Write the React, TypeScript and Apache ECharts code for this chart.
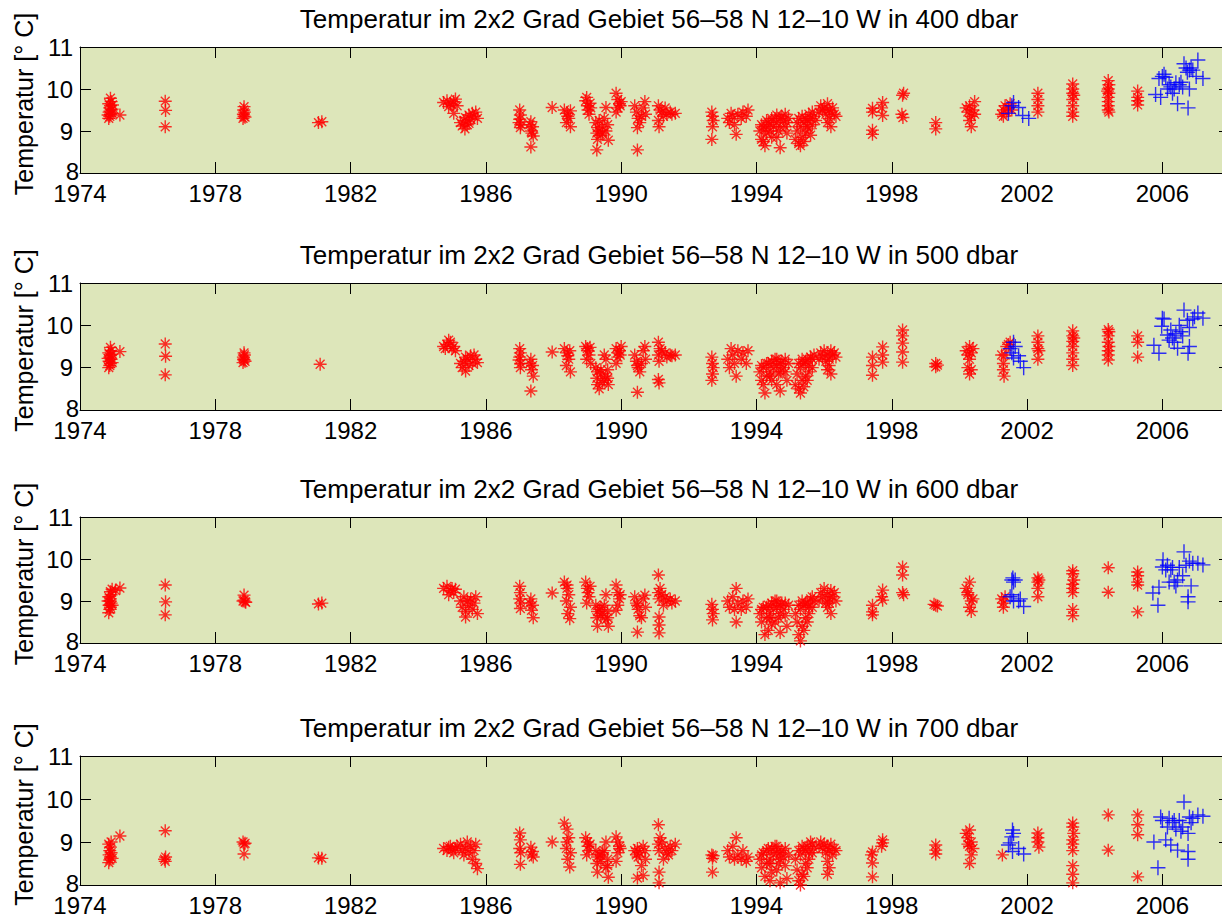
import React, { useEffect, useRef } from "react";
import * as echarts from "echarts";

type Pt = [number, number];

// ---------- data ----------
const depths = ["400", "500", "600", "700"];
const xTickYears = [1974, 1978, 1982, 1986, 1990, 1994, 1998, 2002, 2006];
const yTickUpper = [9, 10, 11];
const yTickLowest = 8;
const yTickAll = [8, 9, 10, 11];

const red400: Pt[] = [
  [1974.85,9.30],[1974.88,9.35],[1974.9,9.4],[1974.86,9.45],[1974.92,9.5],[1974.88,9.55],[1974.9,9.6],[1974.85,9.65],[1974.92,9.7],[1974.9,9.78],[1974.95,9.42],[1974.95,9.52],[1974.83,9.38],[1974.96,9.62],
  [1975.18,9.38],
  [1976.52,9.71],[1976.53,9.49],[1976.52,9.10],
  [1978.82,9.3],[1978.85,9.35],[1978.83,9.4],[1978.86,9.45],[1978.84,9.5],[1978.85,9.58],[1978.88,9.33],
  [1981.05,9.2],[1981.15,9.22],
  [1984.75,9.68],[1984.85,9.72],[1984.95,9.65],[1985.05,9.7],[1985.15,9.6],[1984.9,9.58],[1985.1,9.76],[1985.05,9.42],[1985.0,9.62],
  [1985.25,9.2],[1985.3,9.12],[1985.35,9.25],[1985.4,9.32],[1985.45,9.15],[1985.5,9.38],[1985.55,9.28],[1985.6,9.42],[1985.65,9.35],[1985.7,9.45],[1985.75,9.3],[1985.38,9.05],[1985.5,9.18],
  [1987.0,9.5],[1987.02,9.38],[1987.0,9.28],[1987.03,9.15],[1987.02,9.08],[1986.98,9.2],
  [1987.33,9.22],[1987.38,9.1],[1987.35,9.0],[1987.4,8.88],[1987.36,8.95],[1987.3,9.15],[1987.33,8.62],
  [1987.96,9.56],
  [1988.32,9.5],[1988.4,9.42],[1988.45,9.3],[1988.38,9.2],[1988.5,9.1],[1988.42,9.35],[1988.5,9.48],
  [1988.95,9.72],[1989.0,9.6],[1989.02,9.5],[1989.05,9.4],[1988.98,9.8],[1989.08,9.66],[1989.1,9.55],
  [1989.25,9.2],[1989.3,9.08],[1989.28,8.95],[1989.3,8.8],[1989.28,8.55],[1989.35,9.0],[1989.4,8.9],[1989.5,9.3],[1989.55,9.56],[1989.6,9.15],[1989.62,8.78],[1989.55,9.0],[1989.45,9.1],[1989.35,9.25],[1989.45,8.95],
  [1989.85,9.9],[1989.9,9.75],[1989.95,9.65],[1989.9,9.55],[1989.85,9.45],[1989.97,9.6],[1990.0,9.7],
  [1990.4,9.6],[1990.45,9.45],[1990.5,9.3],[1990.55,9.2],[1990.48,9.08],[1990.65,9.55],[1990.7,9.7],[1990.72,9.4],[1990.6,9.35],[1990.48,8.55],
  [1991.1,9.6],[1991.15,9.5],[1991.1,9.25],[1991.12,9.1],[1991.2,9.45],[1991.3,9.55],[1991.35,9.4],[1991.45,9.45],[1991.5,9.4],[1991.6,9.42],[1991.25,9.35],
  [1992.68,9.45],[1992.7,9.35],[1992.72,9.25],[1992.7,9.1],[1992.68,8.8],
  [1993.15,9.3],[1993.2,9.2],[1993.3,9.35],[1993.35,9.15],[1993.4,8.92],[1993.45,9.4],[1993.55,9.3],[1993.6,9.45],[1993.7,9.35],[1993.75,9.5],[1993.25,9.42],
  [1994.1,9.0],[1994.15,8.8],[1994.2,9.1],[1994.25,8.65],[1994.3,8.95],[1994.35,9.2],[1994.4,9.0],[1994.45,8.85],[1994.5,9.1],[1994.55,9.3],[1994.6,9.2],[1994.65,9.0],[1994.7,8.6],[1994.75,9.35],[1994.8,9.25],[1994.85,9.1],[1994.9,8.95],[1994.95,9.3],[1994.2,8.75],[1994.6,8.85],
  [1994.3,9.25],[1994.45,9.3],[1994.6,9.38],[1994.7,9.3],[1994.85,9.4],[1994.4,9.15],[1994.7,9.1],[1994.25,9.05],[1994.15,9.15],[1994.9,9.2],
  [1995.15,8.8],[1995.2,9.0],[1995.25,8.7],[1995.3,9.1],[1995.35,8.85],[1995.4,9.2],[1995.45,8.95],[1995.5,9.25],[1995.55,9.05],[1995.6,9.3],[1995.65,9.15],[1995.7,9.35],[1995.4,8.75],[1995.3,8.65],
  [1995.25,9.3],[1995.35,9.35],[1995.45,9.3],[1995.55,9.4],[1995.65,9.45],[1995.75,9.25],[1995.5,9.1],[1995.6,8.9],[1995.2,9.2],
  [1995.85,9.45],[1995.9,9.6],[1995.95,9.5],[1996.0,9.55],[1996.05,9.4],[1996.1,9.65],[1996.15,9.5],[1996.2,9.45],[1996.25,9.55],[1996.3,9.4],[1996.35,9.35],[1996.1,9.2],[1996.2,9.1],[1996.15,9.3],
  [1997.43,9.54],[1997.43,9.45],[1997.43,9.02],[1997.43,8.92],
  [1997.73,9.68],[1997.73,9.37],[1997.7,9.55],
  [1998.32,9.85],[1998.35,9.9],[1998.3,9.4],[1998.33,9.32],
  [1999.3,9.2],[1999.3,9.05],
  [2000.2,9.55],[2000.25,9.45],[2000.3,9.6],[2000.35,9.35],[2000.3,9.25],[2000.4,9.5],[2000.45,9.4],[2000.35,9.1],[2000.45,9.7],
  [2001.25,9.4],[2001.3,9.5],[2001.35,9.6],[2001.4,9.45],[2001.45,9.55],[2001.5,9.65],[2001.55,9.5],[2001.3,9.35],
  [2002.32,9.9],[2002.32,9.75],[2002.32,9.6],[2002.32,9.45],
  [2003.35,10.12],[2003.35,10.0],[2003.35,9.9],[2003.38,9.85],[2003.35,9.75],[2003.35,9.6],[2003.35,9.45],[2003.35,9.35],
  [2004.4,10.2],[2004.42,10.1],[2004.4,10.0],[2004.38,9.95],[2004.42,9.9],[2004.4,9.8],[2004.4,9.7],[2004.4,9.6],[2004.4,9.5],[2004.42,9.45],
  [2005.27,9.95],[2005.27,9.8],[2005.27,9.72],[2005.27,9.62],
];
const blue400: Pt[] = [
  [2001.6,9.68],[2001.75,9.56],[2001.87,9.37],[2002.05,9.3],[2001.45,9.42],[2001.55,9.6],
  [2005.8,9.87],[2005.9,10.25],[2006.0,10.3],[2006.05,10.35],[2006.1,10.28],[2006.15,10.0],[2006.25,10.05],[2006.35,10.0],[2006.45,9.65],[2006.5,10.1],[2006.55,10.16],[2006.6,10.05],[2006.64,10.6],[2006.7,10.5],[2006.74,10.4],[2006.8,10.45],[2006.76,9.55],[2006.8,10.0],[2006.85,10.5],[2006.9,10.45],[2007.05,10.69],[2007.2,10.25],[2007.0,10.3],[2005.95,9.8],[2006.2,10.1],[2006.4,10.15],[2006.3,9.9],
];

const red500: Pt[] = [
  [1974.85,9.0],[1974.88,9.05],[1974.9,9.1],[1974.86,9.15],[1974.92,9.2],[1974.88,9.25],[1974.9,9.3],[1974.85,9.35],[1974.92,9.4],[1974.9,9.48],[1974.95,9.12],[1974.95,9.32],[1974.83,9.22],
  [1975.18,9.38],
  [1976.52,9.56],[1976.53,9.27],[1976.52,8.83],
  [1978.82,9.12],[1978.85,9.18],[1978.83,9.25],[1978.86,9.3],[1978.84,9.2],[1978.88,9.15],[1978.85,9.35],
  [1981.1,9.08],
  [1984.75,9.5],[1984.85,9.55],[1984.95,9.6],[1985.0,9.45],[1985.05,9.5],[1984.9,9.65],[1985.1,9.4],[1984.8,9.45],
  [1985.25,9.1],[1985.3,9.0],[1985.35,9.15],[1985.4,8.92],[1985.45,9.2],[1985.5,9.05],[1985.55,9.28],[1985.6,9.1],[1985.65,9.3],[1985.7,9.2],[1985.75,9.12],[1985.4,9.25],
  [1987.0,9.45],[1987.02,9.35],[1987.0,9.25],[1987.03,9.1],[1987.02,9.0],[1986.98,9.18],
  [1987.33,9.2],[1987.38,9.05],[1987.35,8.95],[1987.4,8.8],[1987.3,9.1],[1987.33,8.45],
  [1987.96,9.37],
  [1988.32,9.45],[1988.4,9.35],[1988.45,9.2],[1988.38,9.05],[1988.5,8.9],[1988.42,9.28],[1988.48,9.4],
  [1988.95,9.5],[1989.0,9.45],[1989.02,9.4],[1989.05,9.3],[1988.98,9.2],[1989.08,9.48],[1989.1,9.1],
  [1989.25,9.0],[1989.3,8.9],[1989.28,8.75],[1989.3,8.6],[1989.35,8.5],[1989.4,8.85],[1989.5,8.7],[1989.55,9.2],[1989.6,8.95],[1989.62,8.6],[1989.55,8.8],[1989.45,8.65],[1989.5,9.3],[1989.4,8.95],[1989.6,8.75],
  [1989.85,9.45],[1989.9,9.35],[1989.95,9.4],[1989.9,9.25],[1989.85,9.1],[1989.97,9.3],[1990.0,9.5],
  [1990.4,9.3],[1990.45,9.15],[1990.5,9.0],[1990.55,8.9],[1990.48,9.05],[1990.65,9.4],[1990.7,9.5],[1990.72,9.2],[1990.6,9.1],[1990.48,8.42],
  [1991.1,9.6],[1991.15,9.45],[1991.1,9.3],[1991.12,9.15],[1991.2,9.4],[1991.3,9.35],[1991.35,9.25],[1991.45,9.3],[1991.5,9.28],[1991.6,9.3],[1991.12,8.64],[1991.1,8.72],
  [1992.68,9.25],[1992.7,9.1],[1992.72,9.0],[1992.7,8.85],[1992.68,8.7],
  [1993.15,9.2],[1993.2,9.0],[1993.3,9.3],[1993.35,9.1],[1993.4,8.8],[1993.45,9.4],[1993.55,9.2],[1993.6,9.35],[1993.7,9.1],[1993.75,9.4],[1993.25,9.45],
  [1994.1,8.9],[1994.15,8.7],[1994.2,9.0],[1994.25,8.4],[1994.3,8.8],[1994.35,9.1],[1994.4,8.9],[1994.45,8.7],[1994.5,9.0],[1994.55,9.2],[1994.6,9.05],[1994.65,8.85],[1994.7,8.45],[1994.75,9.15],[1994.8,9.0],[1994.85,8.9],[1994.9,8.7],[1994.95,9.1],[1994.2,8.6],[1994.6,8.6],
  [1994.3,9.1],[1994.45,9.15],[1994.6,9.2],[1994.7,9.1],[1994.85,9.2],[1994.4,8.8],[1994.7,8.9],[1994.15,9.05],
  [1995.15,8.6],[1995.2,8.85],[1995.25,8.5],[1995.3,9.0],[1995.35,8.7],[1995.4,9.1],[1995.45,8.8],[1995.5,9.2],[1995.55,8.9],[1995.6,9.25],[1995.65,9.0],[1995.7,9.3],[1995.4,8.55],[1995.3,8.4],
  [1995.25,9.1],[1995.35,9.2],[1995.45,9.15],[1995.55,9.05],[1995.65,9.2],[1995.5,8.7],
  [1995.85,9.2],[1995.9,9.35],[1995.95,9.25],[1996.0,9.4],[1996.05,9.15],[1996.1,9.3],[1996.15,9.2],[1996.2,9.4],[1996.25,9.3],[1996.3,9.35],[1996.35,9.25],[1996.1,8.95],[1996.2,8.85],[1996.15,9.05],
  [1997.43,9.25],[1997.43,9.05],[1997.43,8.82],
  [1997.73,9.49],[1997.73,9.3],[1997.73,9.13],
  [1998.32,9.89],[1998.32,9.75],[1998.32,9.58],[1998.32,9.37],[1998.32,9.13],
  [1999.3,9.1],[1999.3,9.02],[1999.35,9.06],
  [2000.2,9.4],[2000.25,9.3],[2000.3,9.5],[2000.35,9.35],[2000.3,9.2],[2000.4,9.45],[2000.35,8.95],[2000.3,8.85],[2000.25,9.0],
  [2001.25,9.3],[2001.3,9.1],[2001.3,8.95],[2001.32,8.8],[2001.4,9.5],[2001.45,9.55],[2001.5,9.6],[2001.35,9.3],
  [2002.32,9.75],[2002.32,9.6],[2002.32,9.45],[2002.35,9.4],[2002.32,9.2],
  [2003.35,9.87],[2003.35,9.75],[2003.38,9.7],[2003.35,9.62],[2003.35,9.5],[2003.35,9.35],[2003.35,9.2],[2003.35,9.05],
  [2004.4,9.9],[2004.42,9.85],[2004.4,9.75],[2004.4,9.6],[2004.42,9.5],[2004.4,9.4],[2004.4,9.3],[2004.4,9.18],
  [2005.27,9.75],[2005.27,9.6],[2005.27,9.25],
];
const blue500: Pt[] = [
  [2001.6,9.6],[2001.5,9.45],[2001.6,9.23],[2001.55,9.35],[2001.75,9.28],[2001.9,9.0],[2001.8,9.15],[2001.65,9.5],
  [2005.75,9.53],[2005.9,9.34],[2006.0,10.17],[2006.05,10.15],[2005.98,9.98],[2006.15,9.77],[2006.25,9.89],[2006.3,9.7],[2006.45,9.46],[2006.5,10.0],[2006.55,9.85],[2006.64,10.36],[2006.74,10.12],[2006.76,9.34],[2006.8,9.5],[2007.05,10.29],[2007.2,10.17],[2006.9,10.15],[2006.8,9.95],[2006.35,9.6],[2006.6,9.75],[2006.4,9.8],[2006.95,10.2],[2006.2,9.65],
];

const red600: Pt[] = [
  [1974.85,8.72],[1974.88,8.8],[1974.9,8.85],[1974.86,8.9],[1974.92,8.95],[1974.88,9.0],[1974.9,9.05],[1974.85,9.1],[1974.92,9.15],[1974.9,9.22],[1974.95,9.28],[1974.95,8.9],[1974.83,9.0],[1975.05,9.25],
  [1975.18,9.31],
  [1976.52,9.38],[1976.53,8.98],[1976.52,8.67],
  [1978.85,9.14],[1978.82,9.0],[1978.88,8.98],[1978.85,9.02],[1978.9,8.97],
  [1981.05,8.93],[1981.15,8.95],
  [1984.75,9.3],[1984.85,9.35],[1984.95,9.25],[1985.0,9.3],[1985.05,9.2],[1984.9,9.15],[1985.1,9.28],
  [1985.25,9.0],[1985.3,8.85],[1985.35,9.1],[1985.4,8.75],[1985.45,9.0],[1985.5,8.9],[1985.55,9.05],[1985.6,8.8],[1985.65,8.95],[1985.7,9.1],[1985.75,8.7],[1985.4,8.62],
  [1987.0,9.35],[1987.02,9.2],[1987.0,9.05],[1987.03,8.95],[1987.02,8.82],
  [1987.33,9.05],[1987.38,8.9],[1987.35,8.78],[1987.4,8.6],[1987.3,8.95],
  [1987.96,9.19],
  [1988.32,9.45],[1988.4,9.3],[1988.45,9.15],[1988.38,9.0],[1988.5,8.85],[1988.42,8.7],[1988.48,8.58],[1988.4,9.38],
  [1988.95,9.45],[1989.0,9.3],[1989.02,9.2],[1989.05,9.1],[1988.98,8.95],[1989.08,9.35],
  [1989.25,8.9],[1989.3,8.75],[1989.28,8.6],[1989.3,8.4],[1989.35,8.8],[1989.4,8.65],[1989.5,8.9],[1989.55,9.15],[1989.6,8.75],[1989.62,8.4],[1989.55,8.55],[1989.45,8.7],[1989.4,8.85],[1989.6,8.6],
  [1989.85,9.38],[1989.9,9.2],[1989.95,9.05],[1989.9,8.9],[1989.85,8.78],[1989.97,9.15],
  [1990.4,9.1],[1990.45,8.95],[1990.5,8.8],[1990.55,8.65],[1990.48,8.9],[1990.65,9.05],[1990.7,9.14],[1990.72,8.85],[1990.6,8.6],[1990.48,8.26],
  [1991.1,9.62],[1991.15,9.3],[1991.1,9.2],[1991.12,9.05],[1991.2,9.15],[1991.3,9.1],[1991.35,9.0],[1991.45,9.05],[1991.5,8.95],[1991.6,9.0],[1991.12,8.62],[1991.12,8.43],[1991.12,8.24],[1991.25,8.9],
  [1992.68,8.92],[1992.7,8.8],[1992.72,8.7],[1992.7,8.55],
  [1993.15,9.0],[1993.2,8.85],[1993.3,9.1],[1993.35,8.8],[1993.4,9.3],[1993.4,8.5],[1993.45,8.95],[1993.55,8.8],[1993.6,9.0],[1993.7,8.85],[1993.75,9.05],
  [1994.1,8.7],[1994.15,8.5],[1994.2,8.85],[1994.25,8.2],[1994.3,8.6],[1994.35,8.9],[1994.4,8.7],[1994.45,8.45],[1994.5,8.8],[1994.55,9.0],[1994.6,8.85],[1994.65,8.6],[1994.7,8.25],[1994.75,8.95],[1994.8,8.8],[1994.85,8.65],[1994.9,8.4],[1994.95,8.9],[1994.35,8.3],[1994.55,8.5],
  [1994.3,8.85],[1994.45,8.95],[1994.6,9.0],[1994.7,8.9],[1994.85,8.95],[1994.4,8.6],[1994.7,8.7],[1994.15,8.8],
  [1995.15,8.7],[1995.2,8.5],[1995.25,8.2],[1995.3,8.8],[1995.35,8.4],[1995.4,8.9],[1995.45,8.6],[1995.5,8.95],[1995.55,8.7],[1995.6,9.05],[1995.65,8.85],[1995.7,9.0],[1995.3,8.05],[1995.4,8.3],
  [1995.25,8.9],[1995.35,9.0],[1995.45,8.95],[1995.55,8.85],[1995.65,9.1],[1995.5,8.5],
  [1995.85,9.0],[1995.9,9.2],[1995.95,9.1],[1996.0,9.3],[1996.05,8.95],[1996.1,9.15],[1996.15,9.05],[1996.2,9.25],[1996.25,9.1],[1996.3,9.2],[1996.35,9.0],[1996.1,8.85],[1996.2,8.7],[1996.15,8.95],
  [1997.43,8.9],[1997.43,8.74],[1997.43,8.67],
  [1997.73,9.26],[1997.73,9.02],[1997.7,9.1],
  [1998.32,9.81],[1998.32,9.62],[1998.32,9.2],[1998.35,9.15],
  [1999.3,8.9],[1999.25,8.92],[1999.35,8.88],
  [2000.2,9.3],[2000.25,9.15],[2000.3,9.45],[2000.35,9.0],[2000.3,8.85],[2000.4,9.05],[2000.35,8.75],[2000.25,9.2],
  [2001.25,9.05],[2001.3,8.95],[2001.3,8.85],[2001.35,9.1],
  [2002.32,9.55],[2002.32,9.45],[2002.32,9.3],[2002.32,9.1],[2002.35,9.5],
  [2003.35,9.72],[2003.35,9.65],[2003.38,9.5],[2003.35,9.4],[2003.35,9.3],[2003.35,9.2],[2003.35,8.8],[2003.35,8.65],
  [2004.4,9.79],[2004.4,9.21],
  [2005.27,9.69],[2005.27,9.6],[2005.27,9.45],[2005.27,9.38],[2005.27,8.74],
];
const blue600: Pt[] = [
  [2001.55,9.5],[2001.6,9.45],[2001.65,9.5],[2001.58,9.55],[2001.5,9.1],[2001.6,9.0],[2001.75,9.0],[2001.9,8.87],[2001.55,9.15],[2001.8,9.05],
  [2005.72,9.19],[2005.87,8.9],[2005.9,9.33],[2006.02,9.98],[2006.0,9.81],[2006.1,9.74],[2006.2,9.45],[2006.25,9.74],[2006.3,9.8],[2006.35,9.45],[2006.4,9.36],[2006.64,10.17],[2006.76,9.1],[2006.76,8.98],[2006.8,9.95],[2006.85,9.36],[2007.05,9.9],[2007.2,9.86],[2006.9,9.9],[2006.6,9.6],[2006.5,9.8],[2006.15,9.85],[2006.45,9.5],[2006.7,9.85],
];

const red700: Pt[] = [
  [1974.85,8.52],[1974.88,8.58],[1974.9,8.65],[1974.86,8.7],[1974.92,8.75],[1974.88,8.8],[1974.9,8.88],[1974.85,8.95],[1974.92,9.0],[1974.95,8.62],
  [1975.18,9.14],
  [1976.52,9.26],[1976.53,8.65],[1976.52,8.55],[1976.5,8.6],
  [1978.82,9.0],[1978.88,8.97],[1978.85,8.95],[1978.85,8.72],
  [1981.05,8.63],[1981.15,8.62],
  [1984.75,8.85],[1984.85,8.8],[1984.95,8.9],[1985.0,8.82],[1985.05,8.75],[1984.9,8.88],[1985.1,8.85],[1985.15,8.9],
  [1985.25,8.95],[1985.3,8.8],[1985.35,8.7],[1985.4,8.85],[1985.45,9.0],[1985.5,8.75],[1985.55,8.9],[1985.6,8.6],[1985.65,8.8],[1985.7,8.95],[1985.75,8.38],[1985.7,8.5],
  [1987.0,9.21],[1987.02,9.05],[1987.0,8.85],[1987.03,8.75],[1987.02,8.48],
  [1987.33,8.88],[1987.38,8.78],[1987.35,8.7],[1987.4,8.65],
  [1987.96,9.0],
  [1988.32,9.44],[1988.4,9.3],[1988.45,9.1],[1988.38,8.85],[1988.5,8.75],[1988.42,8.6],[1988.48,8.42],[1988.4,9.0],
  [1988.95,9.1],[1989.0,9.0],[1989.02,8.9],[1989.05,8.8],[1988.98,8.7],[1989.08,8.95],
  [1989.25,8.8],[1989.3,8.65],[1989.28,8.5],[1989.3,8.3],[1989.35,8.7],[1989.4,8.55],[1989.5,8.8],[1989.55,9.0],[1989.6,8.6],[1989.62,8.18],[1989.55,8.4],[1989.45,8.75],[1989.4,8.7],[1989.6,8.45],
  [1989.85,9.12],[1989.9,9.0],[1989.95,8.9],[1989.9,8.75],[1989.85,8.55],[1989.97,8.85],
  [1990.4,8.8],[1990.45,8.7],[1990.5,8.65],[1990.55,8.75],[1990.48,8.85],[1990.65,8.9],[1990.7,8.8],[1990.72,8.6],[1990.6,8.45],[1990.48,8.16],[1990.65,8.22],
  [1991.1,9.4],[1991.15,9.1],[1991.1,8.95],[1991.12,8.8],[1991.2,9.0],[1991.3,8.85],[1991.35,8.75],[1991.45,8.9],[1991.5,8.8],[1991.6,8.95],[1991.12,8.3],[1991.12,8.05],[1991.25,8.6],[1991.4,8.7],
  [1992.68,8.7],[1992.7,8.62],[1992.72,8.68],[1992.7,8.3],
  [1993.15,8.8],[1993.2,8.65],[1993.3,8.9],[1993.35,8.6],[1993.4,9.1],[1993.45,8.7],[1993.55,8.6],[1993.6,8.8],[1993.7,8.55],[1993.75,8.65],
  [1994.1,8.6],[1994.15,8.4],[1994.2,8.75],[1994.25,8.2],[1994.3,8.5],[1994.35,8.85],[1994.4,8.6],[1994.45,8.3],[1994.5,8.7],[1994.55,8.9],[1994.6,8.75],[1994.65,8.5],[1994.7,8.05],[1994.75,8.8],[1994.8,8.65],[1994.85,8.45],[1994.9,8.15],[1994.95,8.7],[1994.4,8.1],[1994.6,8.35],
  [1994.3,8.8],[1994.45,8.85],[1994.6,8.9],[1994.7,8.75],[1994.85,8.85],[1994.4,8.5],[1994.7,8.6],[1994.15,8.7],
  [1995.15,8.6],[1995.2,8.35],[1995.25,8.1],[1995.3,8.7],[1995.35,8.25],[1995.4,8.85],[1995.45,8.5],[1995.5,8.9],[1995.55,8.6],[1995.6,9.0],[1995.65,8.75],[1995.7,8.85],[1995.3,8.0],[1995.4,8.2],
  [1995.25,8.8],[1995.35,8.9],[1995.45,8.8],[1995.55,8.75],[1995.65,8.95],[1995.5,8.4],
  [1995.85,8.9],[1995.9,9.0],[1995.95,8.85],[1996.0,8.95],[1996.05,8.75],[1996.1,8.9],[1996.15,8.8],[1996.2,8.95],[1996.25,8.7],[1996.3,8.85],[1996.35,8.8],[1996.1,8.55],[1996.15,8.4],[1996.1,8.25],
  [1997.43,8.77],[1997.43,8.51],[1997.43,8.19],[1997.4,8.7],
  [1997.73,9.05],[1997.7,8.9],[1997.73,8.98],
  [1999.3,8.93],[1999.3,8.81],[1999.3,8.72],
  [2000.2,9.2],[2000.25,9.1],[2000.3,9.28],[2000.35,9.0],[2000.3,8.9],[2000.4,8.85],[2000.35,8.7],[2000.3,8.5],[2000.25,8.95],
  [2001.27,8.7],
  [2002.32,9.21],[2002.32,9.1],[2002.32,9.0],[2002.35,8.88],
  [2003.35,9.44],[2003.35,9.35],[2003.38,9.2],[2003.35,9.05],[2003.35,8.95],[2003.35,8.8],[2003.35,8.45],[2003.35,8.25],[2003.35,8.05],
  [2004.4,9.63],[2004.4,8.81],
  [2005.27,9.63],[2005.27,9.4],[2005.27,9.17],[2005.27,8.19],
];
const blue700: Pt[] = [
  [2001.57,9.28],[2001.6,9.2],[2001.55,9.12],[2001.45,8.93],[2001.57,8.78],[2001.75,8.85],[2001.9,8.72],[2001.5,8.98],
  [2005.75,9.0],[2005.87,8.4],[2005.95,9.58],[2006.0,9.5],[2006.1,9.05],[2006.15,9.35],[2006.25,8.93],[2006.3,9.45],[2006.4,9.3],[2006.45,8.81],[2006.64,9.93],[2006.76,8.78],[2006.76,8.6],[2006.8,9.58],[2006.76,9.2],[2007.05,9.63],[2007.2,9.6],[2006.85,9.45],[2006.6,9.35],[2006.5,9.5],[2006.2,9.55],[2006.35,9.5],[2006.55,9.25],[2006.9,9.55],
];

const redSets = [red400, red500, red600, red700];
const blueSets = [blue400, blue500, blue600, blue700];

// ---------- layout / style ----------
const FONT = "'Liberation Sans', Arial, Helvetica, sans-serif";
const BG = "#dde6ba";
const GRID_LEFT = 80;
const GRID_WIDTH = 1150;
const gridTops = [47, 283, 517, 756];
const gridHeights = [126, 127, 126, 129];
const X_MIN = 1974;
const X_MAX = 2008;
const Y_MIN = 8;
const Y_MAX = 11;

const STAR = "path://M5,0L5,10M0,5L10,5M1.6,1.6L8.4,8.4M1.6,8.4L8.4,1.6";
const PLUS = "path://M5,0L5,10M0,5L10,5";

function buildOption(): echarts.EChartsCoreOption {
  const grid: any[] = [];
  const xAxis: any[] = [];
  const yAxis: any[] = [];
  const series: any[] = [];
  const graphic: any[] = [];
  const axisLine = { show: true, onZero: false, lineStyle: { color: "#000", width: 1 } };

  depths.forEach((d, i) => {
    grid.push({
      left: GRID_LEFT,
      top: gridTops[i],
      width: GRID_WIDTH,
      height: gridHeights[i],
      show: true,
      backgroundColor: BG,
      borderWidth: 0,
    });
    xAxis.push({
      type: "value", gridIndex: i, min: X_MIN, max: X_MAX, position: "bottom",
      axisLine,
      axisTick: { show: true, inside: true, length: 11, customValues: xTickYears, lineStyle: { color: "#000" } },
      axisLabel: { show: true, customValues: xTickYears, margin: 8, fontSize: 24, lineHeight: 24, color: "#000", fontFamily: FONT, formatter: (v: number) => String(v) },
      splitLine: { show: false },
    });
    xAxis.push({
      type: "value", gridIndex: i, min: X_MIN, max: X_MAX, position: "top",
      axisLine,
      axisTick: { show: true, inside: true, length: 11, customValues: xTickYears, lineStyle: { color: "#000" } },
      axisLabel: { show: false },
      splitLine: { show: false },
    });
    yAxis.push({
      type: "value", gridIndex: i, min: Y_MIN, max: Y_MAX, position: "left",
      axisLine,
      axisTick: { show: true, inside: true, length: 11, customValues: yTickAll, lineStyle: { color: "#000" } },
      axisLabel: { show: true, customValues: yTickUpper, margin: 7, fontSize: 24, lineHeight: 20, color: "#000", fontFamily: FONT },
      splitLine: { show: false },
    });
    yAxis.push({
      type: "value", gridIndex: i, min: Y_MIN, max: Y_MAX, position: "right",
      axisLine,
      axisTick: { show: true, inside: true, length: 11, customValues: yTickAll, lineStyle: { color: "#000" } },
      axisLabel: { show: false },
      splitLine: { show: false },
    });
    series.push({
      type: "scatter",
      name: `rot ${d}`,
      xAxisIndex: 2 * i,
      yAxisIndex: 2 * i,
      data: redSets[i],
      symbol: STAR,
      symbolSize: 13,
      clip: false,
      itemStyle: { color: "none", borderColor: "#ff0000", borderWidth: 1.4 },
      emphasis: { disabled: true },
    });
    series.push({
      type: "scatter",
      name: `blau ${d}`,
      xAxisIndex: 2 * i,
      yAxisIndex: 2 * i,
      data: blueSets[i],
      symbol: PLUS,
      symbolSize: 15,
      clip: false,
      itemStyle: { color: "none", borderColor: "#0000ff", borderWidth: 1.4 },
      emphasis: { disabled: true },
    });
    // lowest y tick label, placed as in the reference (flush with the axis)
    graphic.push({
      type: "text",
      x: 79,
      y: gridTops[i] + gridHeights[i] - 2,
      style: {
        text: String(yTickLowest),
        fontSize: 24,
        fontFamily: FONT,
        fill: "#000",
        align: "right",
        verticalAlign: "middle",
      },
    });
    graphic.push({
      type: "text",
      x: 659,
      y: gridTops[i] - 28,
      style: {
        text: `Temperatur im 2x2 Grad Gebiet 56–58 N 12–10 W in ${d} dbar`,
        fontSize: 26,
        fontFamily: FONT,
        fill: "#000",
        align: "center",
        verticalAlign: "middle",
      },
    });
    graphic.push({
      type: "text",
      x: 24,
      y: gridTops[i] + gridHeights[i] / 2 - 6,
      rotation: Math.PI / 2,
      style: {
        text: "Temperatur [° C]",
        fontSize: 25,
        fontFamily: FONT,
        fill: "#000",
        align: "center",
        verticalAlign: "middle",
      },
    });
  });

  return {
    animation: false,
    backgroundColor: "#ffffff",
    grid,
    xAxis,
    yAxis,
    series,
    graphic,
  };
}

export default function App() {
  const ref = useRef<HTMLDivElement>(null);
  useEffect(() => {
    if (!ref.current) return;
    const chart = echarts.init(ref.current, null, { renderer: "svg" });
    chart.setOption(buildOption());
    return () => chart.dispose();
  }, []);
  return (
    <div style={{ position: "fixed", left: 0, top: 0, width: 1222, height: 919, overflow: "hidden", background: "#fff" }}>
      <div ref={ref} style={{ width: 1240, height: 919 }} />
    </div>
  );
}
